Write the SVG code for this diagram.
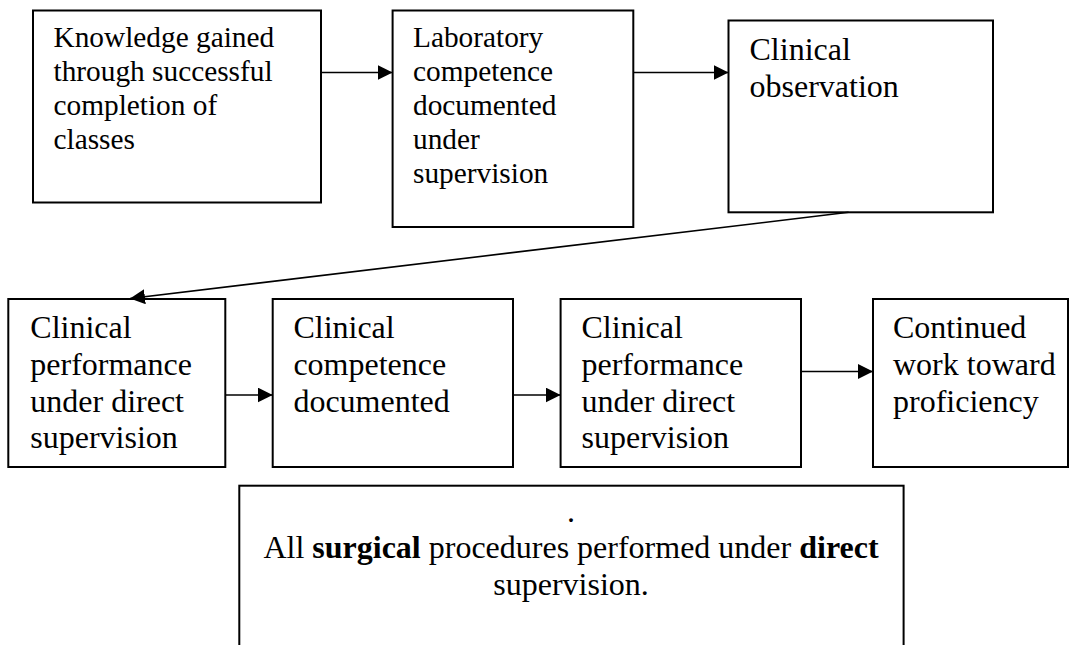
<svg xmlns="http://www.w3.org/2000/svg" width="1076" height="645" viewBox="0 0 1076 645">
<style>
.box{fill:#fff;stroke:#000;stroke-width:2}
.t{font-family:"Liberation Serif","Times New Roman",serif;fill:#000}
.s22{font-size:29.33px}
.s24{font-size:32px}
.c{stroke:#000;stroke-width:1.6;fill:none;marker-end:url(#ah)}
b{font-weight:bold}
</style>
<defs>
<marker id="ah" markerUnits="userSpaceOnUse" markerWidth="16" markerHeight="16" refX="15" refY="7.5" orient="auto">
<path d="M0,0 L15,7.5 L0,15 z" fill="#000"/>
</marker>
</defs>
<rect width="1076" height="645" fill="#fff"/>
<g id="n1">
<rect class="box" x="33" y="10.5" width="288" height="192"/>
<text class="t s22" x="53.5"><tspan x="53.5" y="47">Knowledge gained</tspan><tspan x="53.5" y="81">through successful</tspan><tspan x="53.5" y="115">completion of</tspan><tspan x="53.5" y="149">classes</tspan></text>
</g>
<g id="n2">
<rect class="box" x="392.6" y="10.5" width="240.7" height="216.5"/>
<text class="t s22"><tspan x="413" y="47">Laboratory</tspan><tspan x="413" y="81">competence</tspan><tspan x="413" y="115">documented</tspan><tspan x="413" y="149">under</tspan><tspan x="413" y="183">supervision</tspan></text>
</g>
<g id="n3">
<rect class="box" x="728.5" y="20.5" width="264.5" height="191.8"/>
<text class="t s24"><tspan x="749.5" y="60">Clinical</tspan><tspan x="749.5" y="96.7">observation</tspan></text>
</g>
<g id="n4">
<rect class="box" x="8.3" y="299" width="217" height="168"/>
<text class="t s24"><tspan x="30.3" y="338.3">Clinical</tspan><tspan x="30.3" y="375">performance</tspan><tspan x="30.3" y="411.5">under direct</tspan><tspan x="30.3" y="448">supervision</tspan></text>
</g>
<g id="n5">
<rect class="box" x="272.7" y="299" width="240.3" height="168"/>
<text class="t s24"><tspan x="293.4" y="338.3">Clinical</tspan><tspan x="293.4" y="375">competence</tspan><tspan x="293.4" y="411.5">documented</tspan></text>
</g>
<g id="n6">
<rect class="box" x="560.6" y="299" width="240.4" height="168"/>
<text class="t s24"><tspan x="581.5" y="338.3">Clinical</tspan><tspan x="581.5" y="375">performance</tspan><tspan x="581.5" y="411.5">under direct</tspan><tspan x="581.5" y="448">supervision</tspan></text>
</g>
<g id="n7">
<rect class="box" x="873" y="299" width="195" height="168"/>
<text class="t s24"><tspan x="893" y="338.3">Continued</tspan><tspan x="893" y="375">work toward</tspan><tspan x="893" y="411.5">proficiency</tspan></text>
</g>
<g id="n8">
<rect class="box" x="239.3" y="485.7" width="664.3" height="220"/>
<text class="t s24" text-anchor="middle"><tspan x="571" y="521.5">.</tspan><tspan x="571" y="558.3">All <tspan font-weight="bold">surgical</tspan> procedures performed under <tspan font-weight="bold">direct</tspan></tspan><tspan x="571" y="595">supervision.</tspan></text>
</g>
<g id="connectors">
<line class="c" x1="321" y1="72.5" x2="392.6" y2="72.5"/>
<line class="c" x1="633.3" y1="72.5" x2="728.5" y2="72.5"/>
<line class="c" x1="848.6" y1="212.3" x2="130" y2="298.5"/>
<line class="c" x1="225.2" y1="395" x2="272.7" y2="395"/>
<line class="c" x1="513" y1="395" x2="560.6" y2="395"/>
<line class="c" x1="801" y1="371.5" x2="873" y2="371.5"/>
</g>
</svg>
